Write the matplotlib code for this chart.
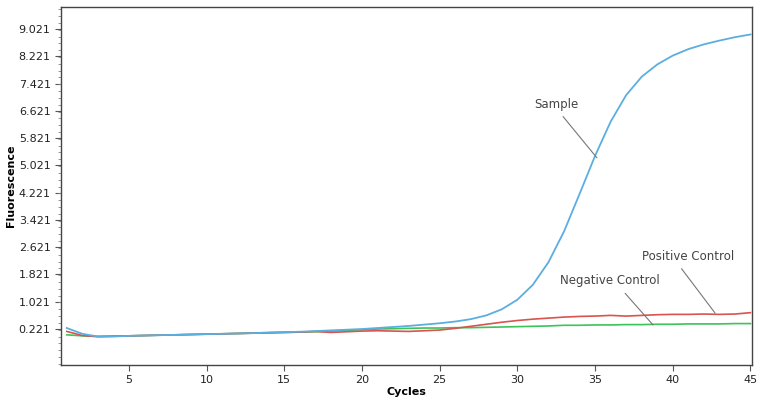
import matplotlib.pyplot as plt
import numpy as np
from matplotlib.ticker import FixedLocator, MultipleLocator

cycles = list(range(1, 46))

sample = [0.25, 0.08, 0.0, 0.0, 0.02, 0.03, 0.04, 0.05, 0.06, 0.07,
          0.08, 0.09, 0.10, 0.12, 0.13, 0.14, 0.16, 0.18, 0.20, 0.22,
          0.25, 0.28, 0.31, 0.35, 0.39, 0.44, 0.51, 0.62, 0.80, 1.08,
          1.52, 2.18, 3.08, 4.18, 5.30, 6.30, 7.08, 7.62, 7.98, 8.24,
          8.43, 8.57, 8.68, 8.78, 8.86]

positive = [0.15, 0.03, 0.0, 0.01, 0.02, 0.03, 0.04, 0.05, 0.06, 0.07,
            0.08, 0.09, 0.10, 0.11, 0.12, 0.13, 0.15, 0.12, 0.14, 0.16,
            0.17, 0.16, 0.15, 0.17, 0.19, 0.24, 0.30, 0.36, 0.42, 0.47,
            0.51, 0.54, 0.57, 0.59, 0.60, 0.62, 0.60, 0.62, 0.64, 0.65,
            0.65, 0.66, 0.65, 0.66, 0.70]

negative = [0.05, 0.02, 0.0, 0.01, 0.02, 0.03, 0.04, 0.05, 0.06, 0.07,
            0.08, 0.09, 0.10, 0.11, 0.12, 0.13, 0.14, 0.16, 0.18, 0.20,
            0.22, 0.23, 0.24, 0.25, 0.25, 0.26, 0.26, 0.27, 0.28, 0.29,
            0.30, 0.31, 0.33, 0.33, 0.34, 0.34, 0.35, 0.35, 0.36, 0.36,
            0.37, 0.37, 0.37, 0.38, 0.38]

y_ticks = [0.221 + 0.8 * k for k in range(12)]
y_labels = [f"{v:.3f}" for v in y_ticks]
x_ticks = [5, 10, 15, 20, 25, 30, 35, 40, 45]

fig = plt.figure(figsize=(7.57, 3.99), dpi=100)
ax = fig.add_axes([0.0806, 0.0852, 0.9128, 0.8973])

# draw order: green, red, blue on top
ax.plot(cycles, negative, color='#3cc35a', linewidth=1.2)
ax.plot(cycles, positive, color='#d9534f', linewidth=1.2)
ax.plot(cycles, sample, color='#5aaee0', linewidth=1.3)

ax.set_xlim(0.63, 45.1)
ax.set_ylim(-0.835, 9.666)

ax.yaxis.set_major_locator(FixedLocator(y_ticks))
ax.set_yticklabels(y_labels)
ax.yaxis.set_minor_locator(MultipleLocator(0.2))
ax.set_xticks(x_ticks)

ax.tick_params(axis='both', labelsize=8, color='#555555', labelcolor='#222222',
               length=4, width=0.8)
ax.tick_params(axis='y', which='minor', length=2, width=0.6, color='#888888')
for sp in ax.spines.values():
    sp.set_color('#444444')
    sp.set_linewidth(1.0)

ax.set_xlabel('Cycles', fontsize=8, fontweight='bold', labelpad=1)
ax.set_ylabel('Fluorescence', fontsize=8, fontweight='bold', labelpad=2)

# callouts
ann = dict(fontsize=8.5, color='#444444', ha='center', va='center')
ax.annotate('Sample', xy=(35.12, 5.24), xytext=(32.48, 6.82),
            arrowprops=dict(arrowstyle='-', color='#777777', lw=0.8,
                            relpos=(0.55, 0), shrinkA=3, shrinkB=0), **ann)
ax.annotate('Positive Control', xy=(42.72, 0.69), xytext=(40.98, 2.36),
            arrowprops=dict(arrowstyle='-', color='#777777', lw=0.8,
                            relpos=(0.38, 0), shrinkA=3, shrinkB=0), **ann)
ax.annotate('Negative Control', xy=(38.73, 0.34), xytext=(35.96, 1.63),
            arrowprops=dict(arrowstyle='-', color='#777777', lw=0.8,
                            relpos=(0.6, 0), shrinkA=3, shrinkB=0), **ann)

fig.savefig('out.png', dpi=100)
